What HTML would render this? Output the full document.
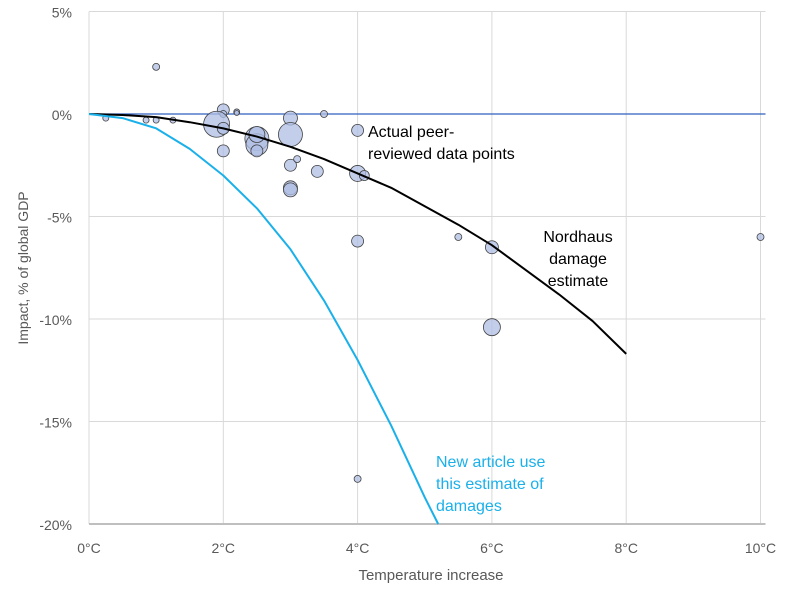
<!DOCTYPE html>
<html><head><meta charset="utf-8"><style>
body{margin:0;background:#fff;font-family:"Liberation Sans",sans-serif}
svg text{font-family:"Liberation Sans",sans-serif}
</style></head><body>
<svg id="c" width="797" height="595"></svg>
<script>
const xTicks=[0,2,4,6,8,10];
const yTicks=[5,0,-5,-10,-15,-20];
const bubbleT=[0.25,1,0.85,1,1.25,2,2,2.2,2.2,1.9,2,2,2.5,2.5,2.5,2.5,3,3,3,3.1,3,3,3.4,3.5,4,4,4.1,4,4,5.5,6,6,10];
const bubbleV=[-0.2,2.3,-0.3,-0.3,-0.3,0.2,0,0.1,0.05,-0.5,-0.7,-1.8,-1.2,-1.5,-1.0,-1.8,-0.2,-1.0,-2.5,-2.2,-3.6,-3.7,-2.8,0,-0.8,-2.9,-3.0,-6.2,-17.8,-6.0,-6.5,-10.4,-6.0];
const bubbleS=[3,3.5,3,3,3,6,3.5,3,2.5,13,6,6,12,11,8,6,7,12,6,3.5,7,7,6,3.5,6,8,5,6,3.5,3.5,6.5,8.5,3.5];
const nordT=[0,0.5,1,1.5,2,2.5,3,3.5,4,4.5,5,5.5,6,6.5,7,7.5,8];
const nordV=[0,-0.05,-0.15,-0.4,-0.7,-1.1,-1.6,-2.2,-2.9,-3.6,-4.5,-5.4,-6.4,-7.6,-8.8,-10.1,-11.7];
const newT=[0,0.5,1,1.25,1.5,2,2.5,3,3.5,4,4.5,5,5.2];
const newV=[0,-0.2,-0.7,-1.2,-1.7,-3.0,-4.6,-6.6,-9.1,-12,-15.2,-18.7,-20];
const NS="http://www.w3.org/2000/svg",svg=document.getElementById('c');
const X=t=>89+t*67.15, Y=v=>114-v*20.5;
function el(tag,a,p){const e=document.createElementNS(NS,tag);for(const k in a)e.setAttribute(k,a[k]);(p||svg).appendChild(e);return e;}
xTicks.forEach(t=>{const l=el('line',{x1:X(t),x2:X(t),y1:Y(5),y2:Y(-20),stroke:'#d9d9d9'});


const tx=el('text',{x:X(t),y:553,'text-anchor':'middle','font-size':14,fill:'#595959'});tx.textContent=t+'°C';

});
yTicks.forEach(v=>{const l=el('line',{x1:X(0),x2:X(10)+5,y1:Y(v),y2:Y(v),stroke:v==-20?'#bfbfbf':'#d9d9d9','stroke-width':v==-20?2:1});


const tx=el('text',{x:72,y:Y(v)+6,'text-anchor':'end','font-size':14,fill:'#595959'});tx.textContent=v+'%';

});
const z=el('line',{x1:X(0),x2:X(10)+5,y1:Y(0),y2:Y(0),stroke:'#2f5fbf','stroke-width':1.2});


bubbleT.forEach((t,i)=>{const c=el('circle',{cx:X(t),cy:Y(bubbleV[i]),r:bubbleS[i],fill:'rgba(175,190,228,0.75)',stroke:'#404040','stroke-width':0.8});

});
function line(T,V,col,name){const p=el('polyline',{points:T.map((t,i)=>X(t)+','+Y(V[i])).join(' '),fill:'none',stroke:col,'stroke-width':2,'stroke-linejoin':'round'});

}
line(nordT,nordV,'#000','nordhaus-curve');
line(newT,newV,'#1ab0ea','new-article-curve');
function lbl(lines,x,y,col,name,anchor){const t=el('text',{x:x,y:y,'font-size':16,fill:col,'text-anchor':anchor||'start'});


lines.forEach((s,i)=>{const ts=el('tspan',{x:x,dy:i?22:0},t);ts.textContent=s;});}
lbl(['Actual peer-','reviewed data points'],368,137,'#000','data-points-label');
lbl(['Nordhaus','damage','estimate'],578,242,'#000','nordhaus-label','middle');
lbl(['New article use','this estimate of','damages'],436,467,'#1ab0ea','new-article-label');
const xt=el('text',{x:431,y:580,'text-anchor':'middle','font-size':15,fill:'#595959'});xt.textContent='Temperature increase';


const yt=el('text',{x:0,y:0,'text-anchor':'middle','font-size':14,fill:'#595959',transform:'translate(28,268) rotate(-90)'});yt.textContent='Impact, % of global GDP';


</script>
</body></html>
